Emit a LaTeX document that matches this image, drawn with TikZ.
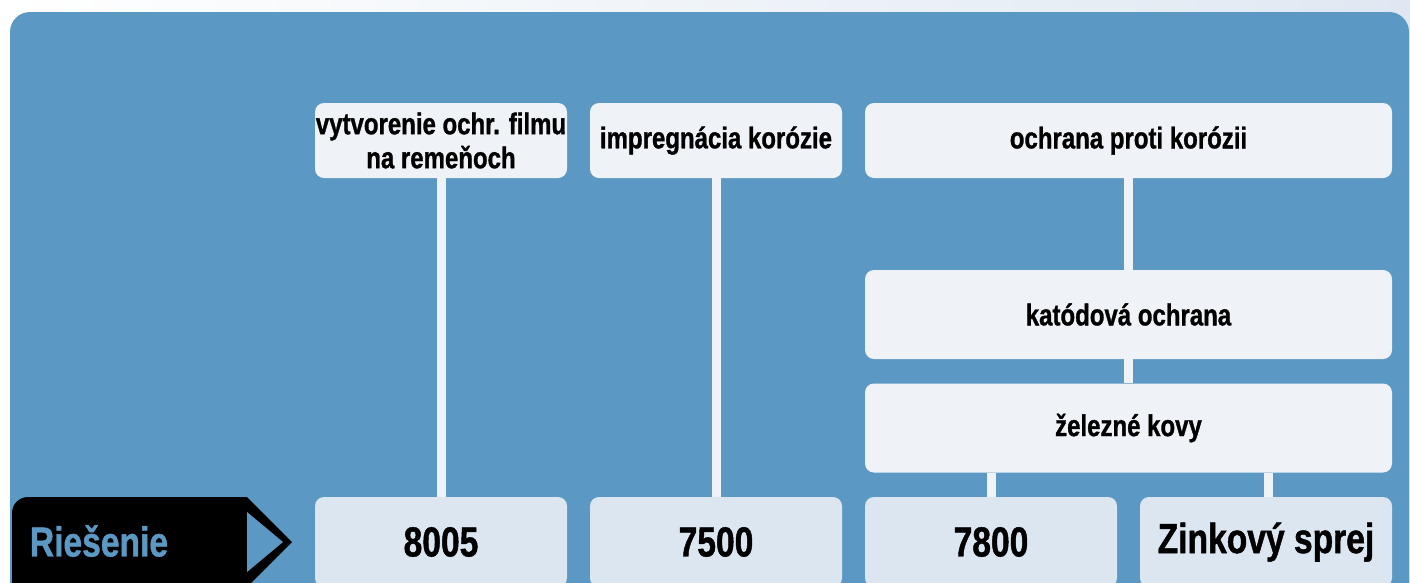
\documentclass[tikz,border=0pt]{standalone}
\usepackage{fontspec}
\setmainfont[FakeStretch=0.8, BoldFeatures={FakeBold=1}]{Liberation Sans}
\definecolor{panel}{HTML}{5B98C3}
\definecolor{topbox}{HTML}{EFF3F8}
\definecolor{botbox}{HTML}{DCE6F0}
\definecolor{bgcol}{HTML}{DFE8F2}
\definecolor{conncol}{HTML}{EFF3F8}
\tikzset{
  lbl/.style={fill=topbox, rounded corners=9pt, inner sep=0pt, align=center,
    font=\fontsize{30}{32}\selectfont\bfseries, text=black},
  ans/.style={fill=botbox, rounded corners=9pt, inner sep=0pt, align=center,
    minimum width=252pt, minimum height=90pt,
    font=\fontsize{42}{44}\selectfont\bfseries, text=black},
  conn/.style={draw=conncol, line width=9pt}
}
\begin{document}
\begin{tikzpicture}[x=1pt,y=-1pt]
\useasboundingbox (0,0) rectangle (1410,582);
\clip (0,0) rectangle (1410,582);
\shade[left color=white, right color=bgcol] (0,0) rectangle (1410,582);
\fill[panel, rounded corners=20pt] (10,12) rectangle (1409,640);

% top labels
\node[lbl, minimum width=252pt, minimum height=75pt] (a) at (441,140.5)
  {vytvorenie ochr. filmu\\[2pt]na remeňoch};
\node[lbl, minimum width=252pt, minimum height=75pt] (b) at (716,140.5)
  {impregnácia korózie};
\node[lbl, minimum width=527pt, minimum height=75pt] (c) at (1128.5,140.5)
  {ochrana proti korózii};
\node[lbl, minimum width=527pt, minimum height=89pt] (d) at (1128.5,314.5)
  {katódová ochrana};
\node[lbl, minimum width=527pt, minimum height=89pt] (e) at (1128.5,428)
  {železné kovy};

% answers
\node[ans] (r1) at (441,542) {8005};
\node[ans] (r2) at (716,542) {7500};
\node[ans] (r3) at (991,542) {7800};
\node[ans] (r4) at (1266,542) {Zinkový sprej};

% connectors
\draw[conn] (a.south) -- (r1.north);
\draw[conn] (b.south) -- (r2.north);
\draw[conn] (c.south) -- (d.north);
\draw[conn] (d.south) -- (e.north);
\draw[conn] (r3.north) -- (r3.north |- e.south);
\draw[conn] ([xshift=2pt]r4.north) -- ([xshift=2pt]r4.north |- e.south);

% Riesenie tag
\fill[black, rounded corners=16pt] (12,640) -- (12,497) -- (200,497) [sharp corners] -- (247,497) -- (292,542) -- (220,614) -- (12,614) -- cycle;
\fill[panel] (247,512) -- (283,542) -- (247,572) -- cycle;
\node[font=\fontsize{42}{44}\selectfont\bfseries, text=panel] (tag) at (99,541) {Riešenie};
\end{tikzpicture}
\end{document}
